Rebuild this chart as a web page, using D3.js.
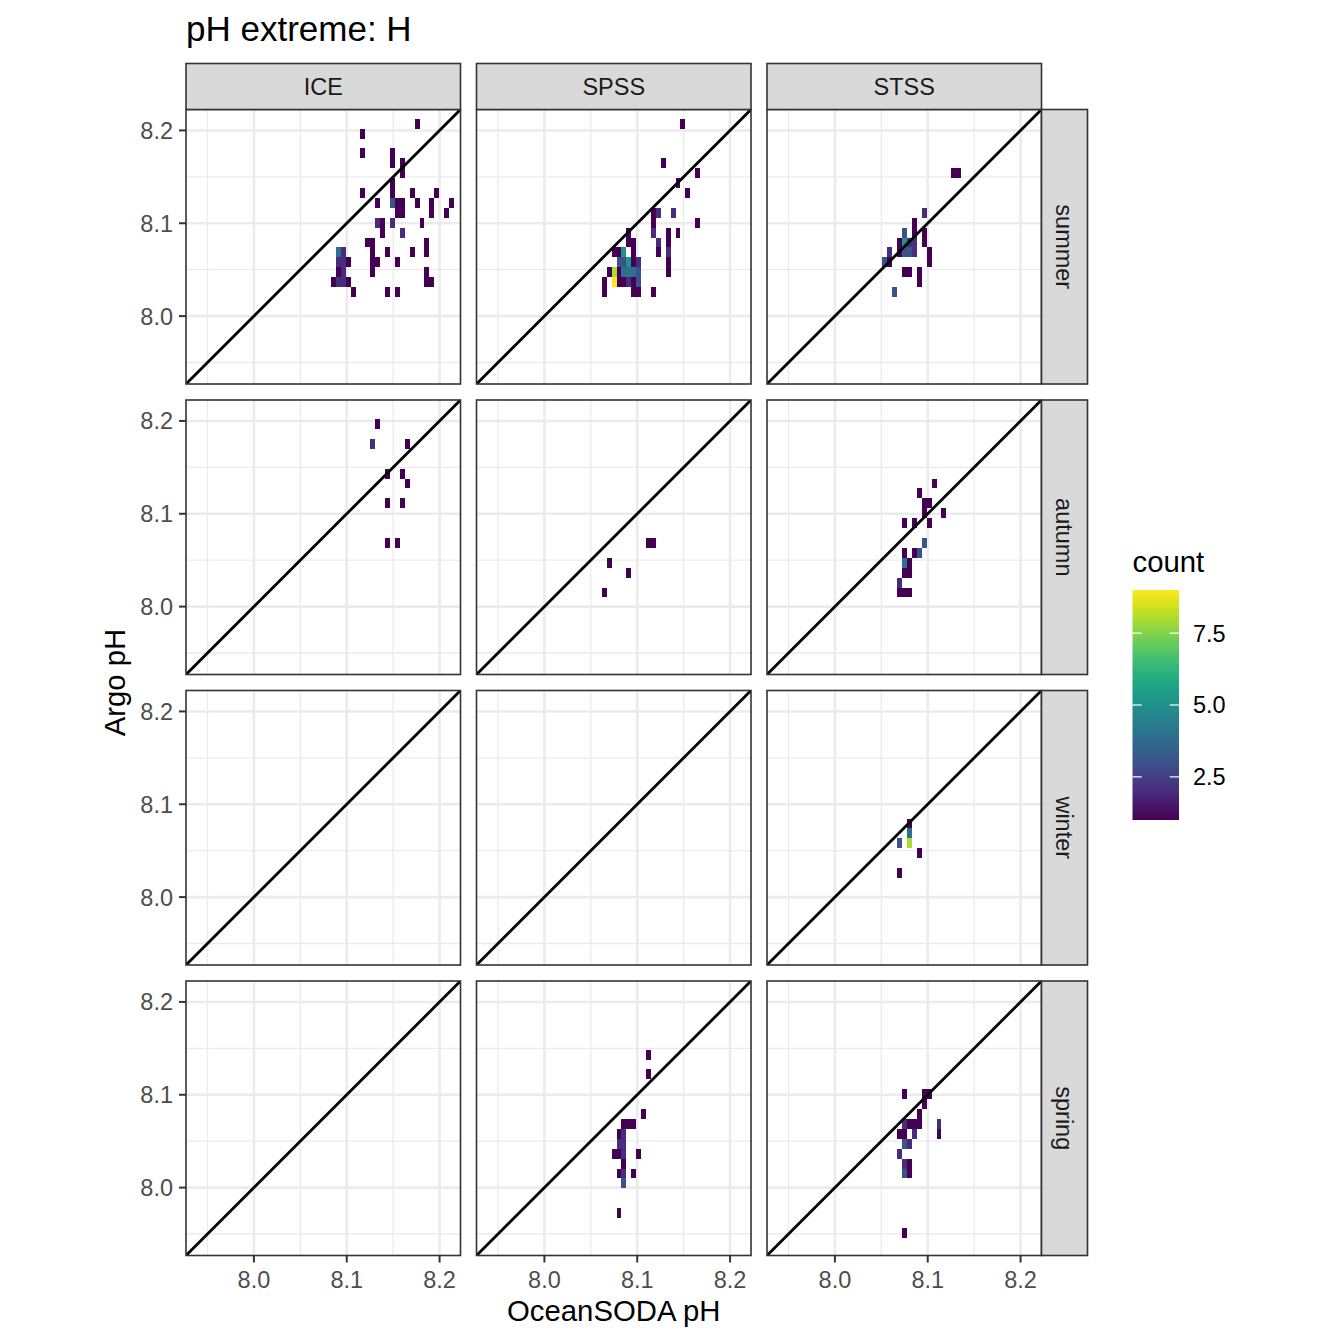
<!DOCTYPE html>
<html>
<head>
<meta charset="utf-8">
<script src="https://cdn.jsdelivr.net/npm/d3@7"></script>
<style>
  body { margin: 0; background: #fff; }
  text { font-family: "Liberation Sans", Arial, Helvetica, sans-serif; }
</style>
</head>
<body>
<svg id="chart" width="1344" height="1344"></svg>
<script>
var regions = ['ICE', 'SPSS', 'STSS'];
var seasons = ['summer', 'autumn', 'winter', 'spring'];
var phLimits = [7.9403, 8.2091];
var phTicks = [8.0, 8.1, 8.2];
var phMinor = [7.95, 8.05, 8.15];
var countRange = [1, 9];
var countTicks = [2.5, 5.0, 7.5];

// bin2d grid: lower-left corner of bin [0,0] and bin size
var binOrigin = [8.0512, 7.9459];
var binSize = [0.0053, 0.010667];

// [x bin, y bin, count]
var iceSummer = [
  [23,24,1], [12,23,1], [12,21,1], [18,21,1], [18,20,1], [20,20,1], [20,19,1], [18,18,1],
  [12,17,1], [18,17,1], [22,17,1], [27,17,1],
  [15,16,1], [18,16,3], [19,16,1], [20,16,1], [23,16,1], [26,16,1], [30,16,1],
  [19,15,1], [20,15,1], [26,15,1], [29,15,1],
  [15,14,2], [16,14,1], [18,14,2], [24,14,1],
  [16,13,1], [20,13,2],
  [13,12,1], [14,12,1], [25,12,1],
  [7,11,4], [8,11,2], [14,11,1], [17,11,1], [22,11,1], [25,11,1],
  [7,10,2], [8,10,2], [9,10,1], [14,10,1], [15,10,1], [19,10,1],
  [7,9,1], [8,9,2], [14,9,1], [25,9,1],
  [6,8,1], [7,8,2], [8,8,2], [9,8,1], [25,8,1], [26,8,1],
  [10,7,1], [17,7,1], [19,7,1]
];
var spssSummer = [
  [18,24,1], [14,20,1], [21,19,1], [17,18,1], [19,17,1],
  [12,15,1], [13,15,2], [16,15,2],
  [12,14,1], [21,14,1],
  [7,13,1], [12,13,2], [15,13,1], [17,13,1],
  [7,12,1], [8,12,1], [13,12,2], [15,12,1],
  [4,11,1], [5,11,1], [6,11,5], [8,11,1], [13,11,1], [15,11,2],
  [5,10,3], [6,10,3], [7,10,5], [8,10,1], [9,10,2], [15,10,1],
  [3,9,1], [4,9,8], [5,9,1], [6,9,4], [7,9,4], [8,9,4], [9,9,3], [15,9,1],
  [2,8,1], [4,8,9], [5,8,1], [6,8,1], [7,8,2], [8,8,1], [9,8,3],
  [2,7,1], [8,7,1], [9,7,1], [12,7,1]
];
var stssSummer = [
  [14,19,1], [15,19,1], [8,15,2], [6,14,1],
  [4,13,3], [6,13,1], [8,13,1],
  [3,12,1], [4,12,5], [5,12,2], [6,12,2], [8,12,1],
  [1,11,2], [3,11,1], [4,11,3], [5,11,3], [6,11,2], [9,11,1],
  [0,10,3], [1,10,1], [9,10,1],
  [4,9,1], [5,9,1], [7,9,1], [7,8,1], [2,7,3]
];
var iceAutumn = [
  [15,23,1], [14,21,2], [21,21,1], [17,18,1], [20,18,1], [21,17,1],
  [17,15,1], [20,15,1], [17,11,1], [19,11,1]
];
var spssAutumn = [
  [11,11,1], [12,11,1], [3,9,1], [7,8,1], [2,6,1]
];
var stssAutumn = [
  [10,17,1], [7,16,1], [8,15,1], [9,15,1], [8,14,1], [12,14,1],
  [4,13,1], [6,13,1], [9,13,1], [8,11,3],
  [4,10,1], [6,10,1], [7,10,3], [4,9,4], [5,9,1], [4,8,1], [5,8,1],
  [3,7,2], [3,6,1], [4,6,1], [5,6,1]
];
var stssWinter = [
  [5,12,1], [5,11,4], [3,10,3], [5,10,8], [7,9,1], [3,7,1]
];
var spssSpring = [
  [11,18,1], [11,16,1], [10,12,1], [6,11,1], [7,11,1], [8,11,1],
  [5,10,1], [6,10,2], [5,9,2], [6,9,2],
  [4,8,1], [5,8,1], [6,8,2], [9,8,1], [6,7,1],
  [5,6,1], [6,6,2], [8,6,1], [6,5,3], [5,2,1]
];
var stssSpring = [
  [4,14,1], [8,14,1], [9,14,1], [8,13,1], [7,12,1],
  [4,11,2], [5,11,1], [6,11,1], [7,11,1], [11,11,2],
  [3,10,1], [4,10,1], [6,10,2], [11,10,1],
  [4,9,3], [5,9,2], [3,8,2], [4,7,2], [5,7,1], [4,6,3], [5,6,1], [4,0,1]
];

var bins = {
  ICE:  { summer: iceSummer,  autumn: iceAutumn,  winter: [],         spring: [] },
  SPSS: { summer: spssSummer, autumn: spssAutumn, winter: [],         spring: spssSpring },
  STSS: { summer: stssSummer, autumn: stssAutumn, winter: stssWinter, spring: stssSpring }
};

var panelLeft = 186, panelTop = 109.5, panelSize = 274.5, panelStep = 290.5,
    stripSize = 46, baseSize = 29.3, smallSize = 23.5, titleSize = 35;

var svg = d3.select('#chart');

var pad = (phLimits[1] - phLimits[0]) * 0.05;
var x = d3.scaleLinear().domain([phLimits[0] - pad, phLimits[1] + pad]).range([0, panelSize]);
var y = d3.scaleLinear().domain([phLimits[0] - pad, phLimits[1] + pad]).range([panelSize, 0]);
var fill = d3.scaleSequential(d3.interpolateViridis).domain(countRange);

svg.append('defs').append('clipPath').attr('id', 'panel-clip')
  .append('rect').attr('width', panelSize).attr('height', panelSize);

// title
svg.append('text')
  .attr('x', panelLeft).attr('y', 41)
  .style('font-size', titleSize + 'px').style('fill', '#000')
  .text('pH extreme: H');

seasons.forEach(function(season, r) {
  regions.forEach(function(region, c) {
    var g = svg.append('g')
      .attr('transform', 'translate(' + (panelLeft + c * panelStep) + ',' + (panelTop + r * panelStep) + ')');

    g.append('rect').attr('width', panelSize).attr('height', panelSize).style('fill', '#fff');

    var inner = g.append('g').attr('clip-path', 'url(#panel-clip)');

    inner.selectAll('.minor-v').data(phMinor).enter().append('line')
      .attr('x1', function(d){ return x(d); }).attr('x2', function(d){ return x(d); })
      .attr('y1', 0).attr('y2', panelSize)
      .style('stroke', '#ebebeb').style('stroke-width', 1.3);
    inner.selectAll('.minor-h').data(phMinor).enter().append('line')
      .attr('y1', function(d){ return y(d); }).attr('y2', function(d){ return y(d); })
      .attr('x1', 0).attr('x2', panelSize)
      .style('stroke', '#ebebeb').style('stroke-width', 1.3);
    inner.selectAll('.major-v').data(phTicks).enter().append('line')
      .attr('x1', function(d){ return x(d); }).attr('x2', function(d){ return x(d); })
      .attr('y1', 0).attr('y2', panelSize)
      .style('stroke', '#ebebeb').style('stroke-width', 2.6);
    inner.selectAll('.major-h').data(phTicks).enter().append('line')
      .attr('y1', function(d){ return y(d); }).attr('y2', function(d){ return y(d); })
      .attr('x1', 0).attr('x2', panelSize)
      .style('stroke', '#ebebeb').style('stroke-width', 2.6);

    // binned tiles
    inner.selectAll('.tile').data(bins[region][season]).enter().append('rect')
      .attr('class', 'tile')
      .attr('x', function(d){ return x(binOrigin[0] + d[0] * binSize[0]); })
      .attr('y', function(d){ return y(binOrigin[1] + (d[1] + 1) * binSize[1]); })
      .attr('width', function(d){ return x(binOrigin[0] + (d[0] + 1) * binSize[0]) - x(binOrigin[0] + d[0] * binSize[0]); })
      .attr('height', function(d){ return y(binOrigin[1] + d[1] * binSize[1]) - y(binOrigin[1] + (d[1] + 1) * binSize[1]); })
      .style('fill', function(d){ return fill(d[2]); })
      .style('shape-rendering', 'crispEdges');

    // 1:1 line
    var dom = x.domain();
    inner.append('line')
      .attr('x1', x(dom[0])).attr('y1', y(dom[0]))
      .attr('x2', x(dom[1])).attr('y2', y(dom[1]))
      .style('stroke', '#000').style('stroke-width', 2.8);

    g.append('rect').attr('width', panelSize).attr('height', panelSize)
      .style('fill', 'none').style('stroke', '#333').style('stroke-width', 1.6);

    // top strips
    if (r == 0) {
      var st = g.append('g').attr('transform', 'translate(0,' + (-stripSize) + ')');
      st.append('rect').attr('width', panelSize).attr('height', stripSize)
        .style('fill', '#d9d9d9').style('stroke', '#333').style('stroke-width', 1.6);
      st.append('text')
        .attr('x', panelSize / 2).attr('y', stripSize / 2).attr('dy', '0.36em')
        .attr('text-anchor', 'middle')
        .style('font-size', smallSize + 'px').style('fill', '#1a1a1a')
        .text(region);
    }
    // right strips
    if (c == regions.length - 1) {
      var sr = g.append('g').attr('transform', 'translate(' + panelSize + ',0)');
      sr.append('rect').attr('width', stripSize).attr('height', panelSize)
        .style('fill', '#d9d9d9').style('stroke', '#333').style('stroke-width', 1.6);
      sr.append('text')
        .attr('transform', 'translate(' + (stripSize / 2) + ',' + (panelSize / 2) + ') rotate(90)')
        .attr('dy', '0.36em')
        .attr('text-anchor', 'middle')
        .style('font-size', smallSize + 'px').style('fill', '#1a1a1a')
        .text(season);
    }
    // y axis
    if (c == 0) {
      g.selectAll('.ytick').data(phTicks).enter().append('line')
        .attr('x1', -7).attr('x2', 0)
        .attr('y1', function(d){ return y(d); }).attr('y2', function(d){ return y(d); })
        .style('stroke', '#333').style('stroke-width', 2);
      g.selectAll('.ylab').data(phTicks).enter().append('text')
        .attr('x', -13).attr('y', function(d){ return y(d); }).attr('dy', '0.36em')
        .attr('text-anchor', 'end')
        .style('font-size', smallSize + 'px').style('fill', '#4d4d4d')
        .text(function(d){ return d3.format('.1f')(d); });
    }
    // x axis
    if (r == seasons.length - 1) {
      g.selectAll('.xtick').data(phTicks).enter().append('line')
        .attr('y1', panelSize).attr('y2', panelSize + 7)
        .attr('x1', function(d){ return x(d); }).attr('x2', function(d){ return x(d); })
        .style('stroke', '#333').style('stroke-width', 2);
      g.selectAll('.xlab').data(phTicks).enter().append('text')
        .attr('x', function(d){ return x(d); }).attr('y', panelSize + 32)
        .attr('text-anchor', 'middle')
        .style('font-size', smallSize + 'px').style('fill', '#4d4d4d')
        .text(function(d){ return d3.format('.1f')(d); });
    }
  });
});

// axis titles
var gridW = panelStep * 2 + panelSize, gridH = panelStep * 3 + panelSize;
svg.append('text')
  .attr('x', panelLeft + gridW / 2).attr('y', 1321)
  .attr('text-anchor', 'middle')
  .style('font-size', baseSize + 'px').style('fill', '#000')
  .text('OceanSODA pH');
svg.append('text')
  .attr('transform', 'translate(125,' + (panelTop + gridH / 2) + ') rotate(-90)')
  .attr('text-anchor', 'middle')
  .style('font-size', baseSize + 'px').style('fill', '#000')
  .text('Argo pH');

// colour bar legend
var barX = 1132.5, barY = 590, barW = 46.5, barH = 230;
var grad = svg.select('defs').append('linearGradient')
  .attr('id', 'count-grad').attr('x1', 0).attr('y1', 1).attr('x2', 0).attr('y2', 0);
d3.range(0, 1.0001, 0.05).forEach(function(t) {
  grad.append('stop').attr('offset', t)
    .attr('stop-color', fill(countRange[0] + t * (countRange[1] - countRange[0])));
});
var cy = d3.scaleLinear().domain(countRange).range([barY + barH, barY]);

svg.append('text')
  .attr('x', barX).attr('y', 572)
  .style('font-size', baseSize + 'px').style('fill', '#000')
  .text('count');
svg.append('rect')
  .attr('x', barX).attr('y', barY).attr('width', barW).attr('height', barH)
  .style('fill', 'url(#count-grad)');
svg.selectAll('.ctick-l').data(countTicks).enter().append('line')
  .attr('x1', barX).attr('x2', barX + 9.3)
  .attr('y1', function(d){ return cy(d); }).attr('y2', function(d){ return cy(d); })
  .style('stroke', '#fff').style('stroke-width', 1.2);
svg.selectAll('.ctick-r').data(countTicks).enter().append('line')
  .attr('x1', barX + barW - 9.3).attr('x2', barX + barW)
  .attr('y1', function(d){ return cy(d); }).attr('y2', function(d){ return cy(d); })
  .style('stroke', '#fff').style('stroke-width', 1.2);
svg.selectAll('.clab').data(countTicks).enter().append('text')
  .attr('x', 1193).attr('y', function(d){ return cy(d); }).attr('dy', '0.36em')
  .style('font-size', smallSize + 'px').style('fill', '#000')
  .text(function(d){ return d3.format('.1f')(d); });
</script>
</body>
</html>
